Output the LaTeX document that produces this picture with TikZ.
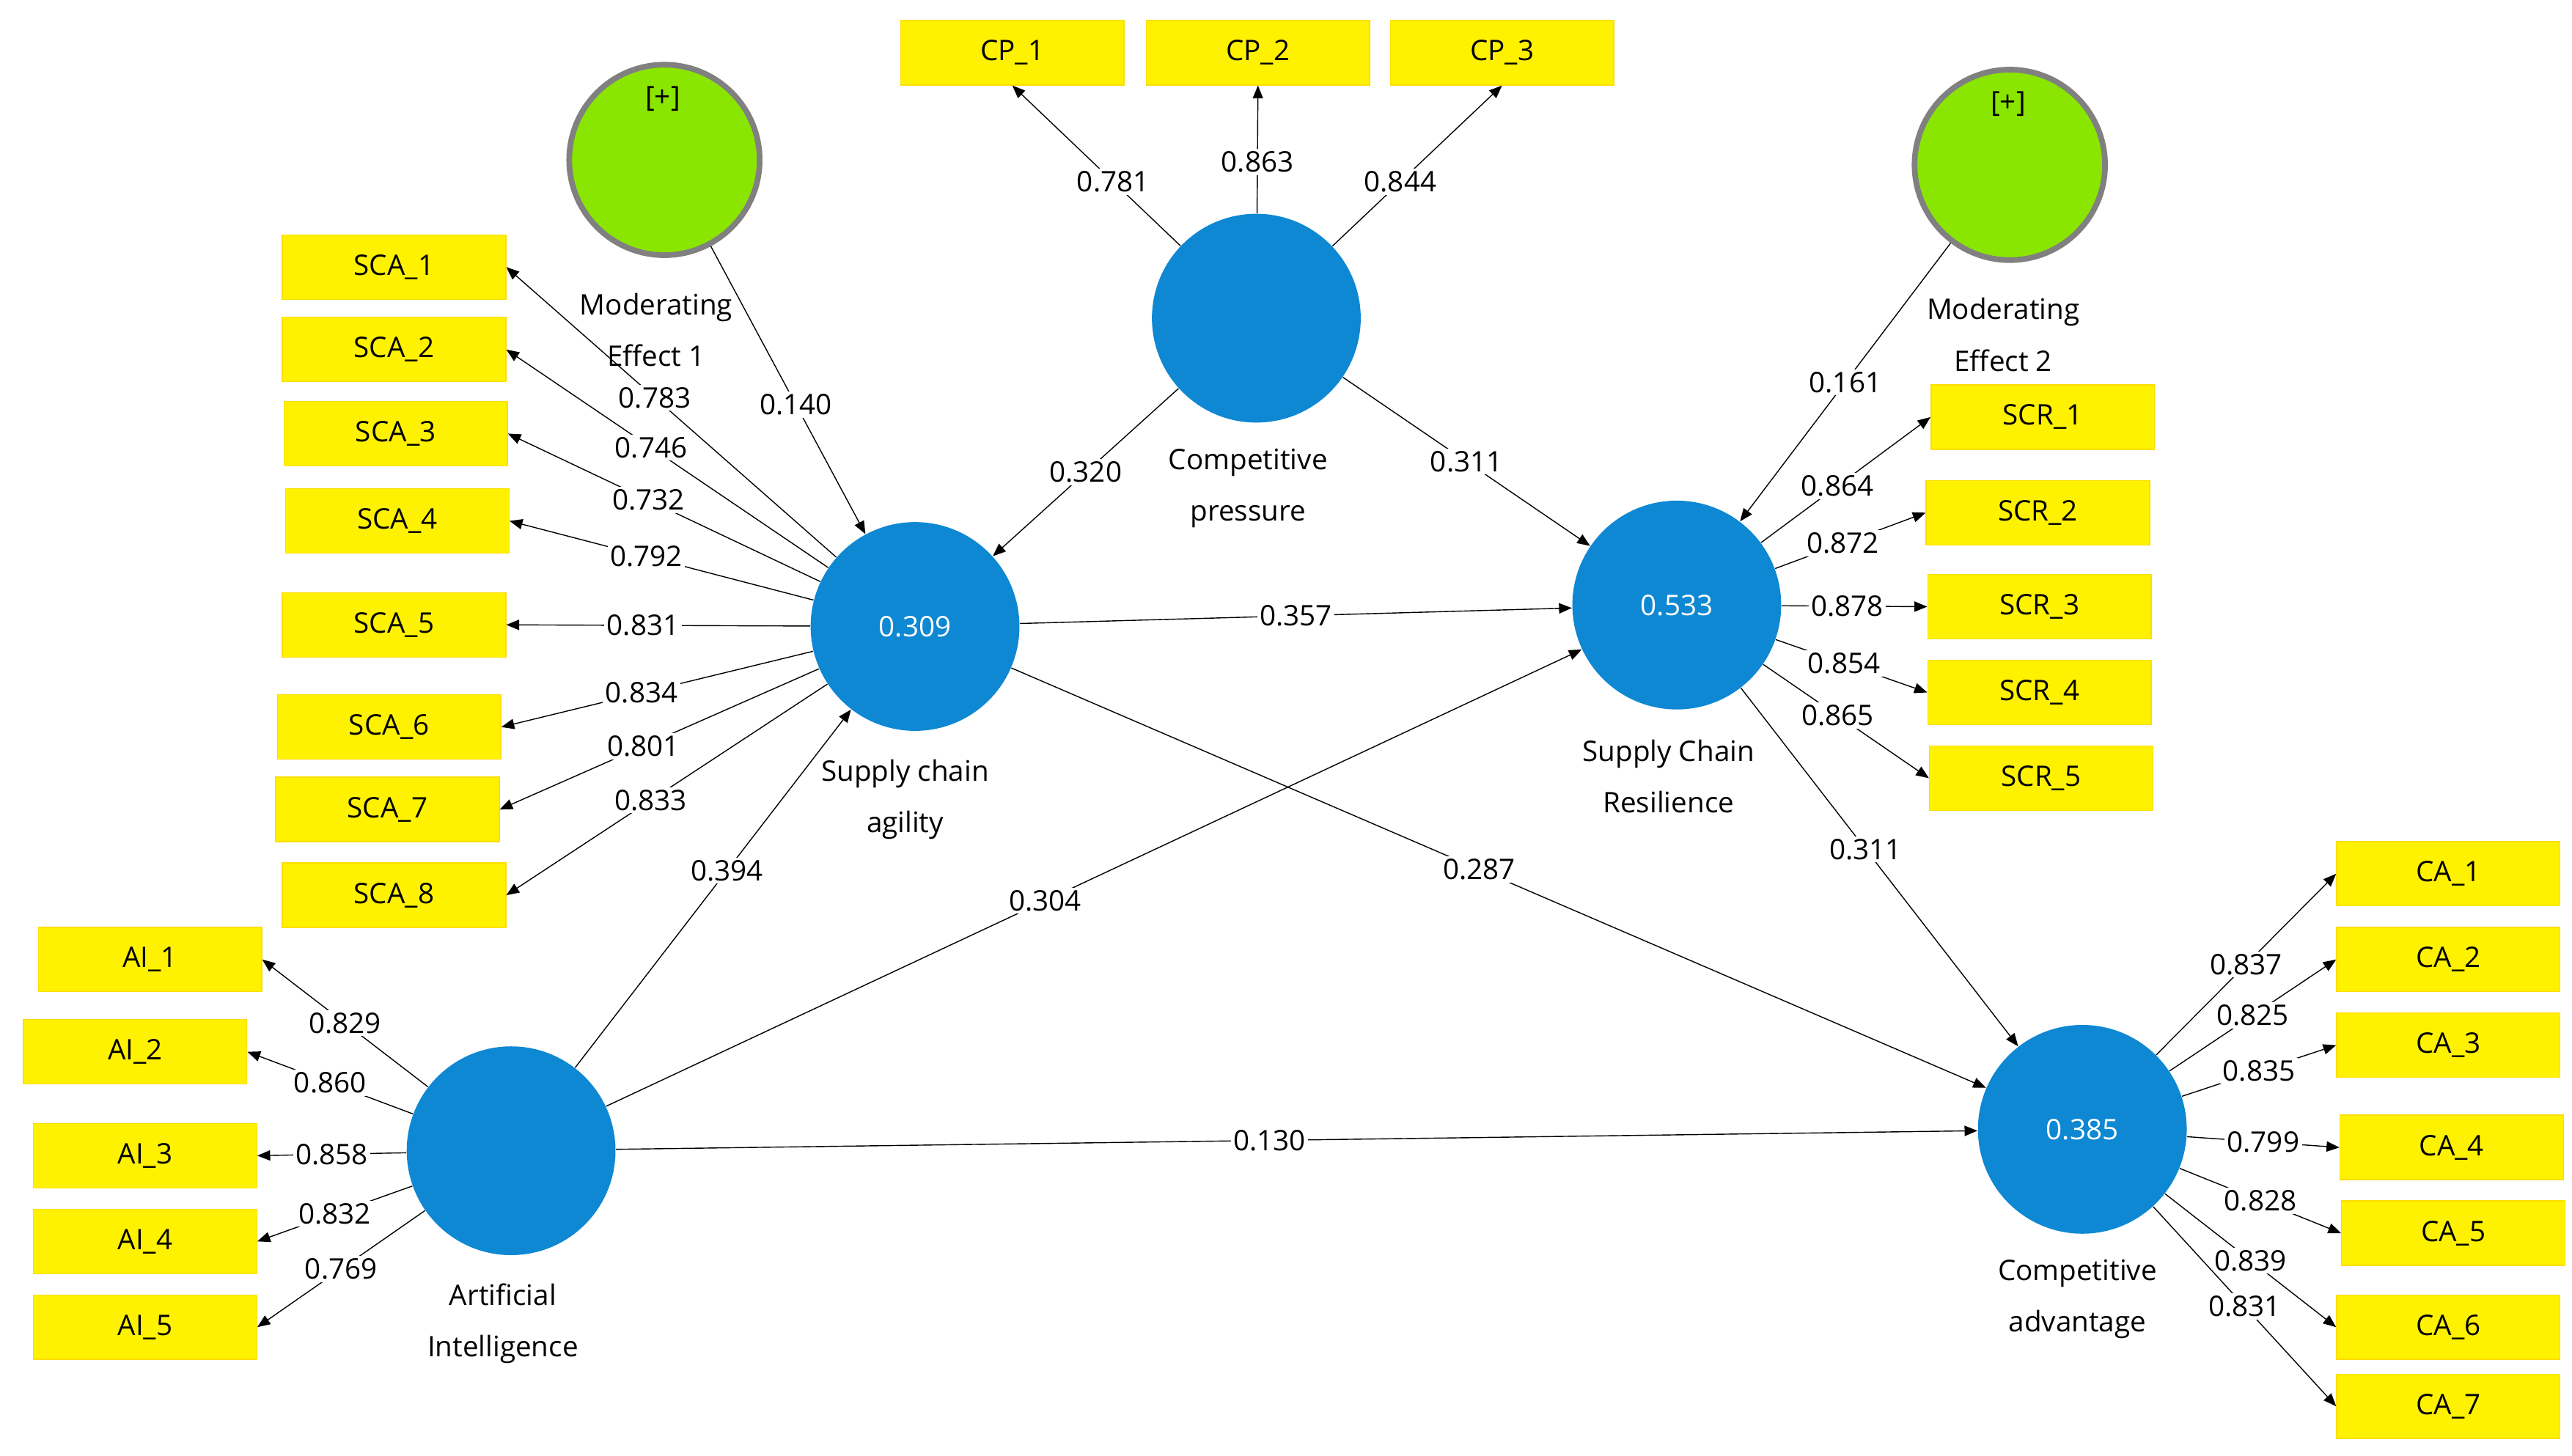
\documentclass[tikz,border=0pt]{standalone}
\usepackage{fontspec}
\setmainfont{Open Sans}
\usetikzlibrary{arrows.meta}
\tikzset{
    latent/.style={circle, fill=cyan!70!blue, draw=none, minimum size=2.85cm,
        text=white, font=\fontsize{11}{13}\selectfont},
    moder/.style={circle, fill=lime!80!green!90!black, draw=gray, line width=2.2pt,
        minimum size=2.6cm},
    indic/.style={rectangle, fill=yellow, draw=yellow!80!orange, minimum width=3.05cm,
        minimum height=0.88cm, font=\fontsize{11}{13}\selectfont},
    lab/.style={align=center, font=\fontsize{11}{20}\selectfont},
    path/.style={-{Triangle[length=5pt,width=4pt]}, thin},
    coef/.style={fill=white, inner sep=1pt, font=\fontsize{11}{13}\selectfont}
}
\begin{document}
\begin{tikzpicture}[x=0.0225cm, y=-0.0225cm]
    \useasboundingbox (0,0) rectangle (1560,883);

    % latent variables
    \node[latent] (SCA) at (555,380) {0.309};
    \node[latent] (CP) at (762,193) {};
    \node[latent] (SCR) at (1017,367) {0.533};
    \node[latent] (AI) at (310,698) {};
    \node[latent] (CA) at (1263,685) {0.385};
    \node[moder] (ME1) at (403,97) {};
    \node[font=\fontsize{11}{13}\selectfont] at (402,60) {[+]};
    \node[moder] (ME2) at (1219,100) {};
    \node[font=\fontsize{11}{13}\selectfont] at (1218,63) {[+]};

    \node[lab] at (398,200) {Moderating\\Effect 1};
    \node[lab] at (1215,203) {Moderating\\Effect 2};
    \node[lab] at (757,296) {Competitive\\pressure};
    \node[lab] at (549,485) {Supply chain\\agility};
    \node[lab] at (1012,471) {Supply Chain\\Resilience};
    \node[lab] at (305,803) {Artificial\\Intelligence};
    \node[lab] at (1260,788) {Competitive\\advantage};

    % indicators
    \foreach \n/\x/\y/\v in {1/239/162/0.783, 2/239/212/0.746, 3/240/263/0.732,
        4/241/316/0.792, 5/239/379/0.831, 6/236/441/0.834, 7/235/491/0.801, 8/239/543/0.833}{
        \node[indic] (SCA_\n) at (\x,\y) {SCA\_\n};
        \draw[path] (SCA) -- (SCA_\n.east) node[coef, pos=0.55] {\v};
    }
    \foreach \n/\x/\y/\v in {1/614/32/0.781, 2/763/32/0.863, 3/911/32/0.844}{
        \node[indic] (CP_\n) at (\x,\y) {CP\_\n};
        \draw[path] (CP) -- (CP_\n.south) node[coef, pos=0.4] {\v};
    }
    \foreach \n/\x/\y/\v in {1/1239/253/0.864, 2/1236/311/0.872, 3/1237/368/0.878,
        4/1237/420/0.854, 5/1238/472/0.865}{
        \node[indic] (SCR_\n) at (\x,\y) {SCR\_\n};
        \draw[path] (SCR) -- (SCR_\n.west) node[coef, pos=0.45] {\v};
    }
    \foreach \n/\x/\y/\v in {1/91/582/0.829, 2/82/638/0.860, 3/88/701/0.858,
        4/88/753/0.832, 5/88/805/0.769}{
        \node[indic] (AI_\n) at (\x,\y) {AI\_\n};
        \draw[path] (AI) -- (AI_\n.east) node[coef, pos=0.5] {\v};
    }
    \foreach \n/\x/\y/\v in {1/1485/530/0.837, 2/1485/582/0.825, 3/1485/634/0.835,
        4/1487/696/0.799, 5/1488/748/0.828, 6/1485/805/0.839, 7/1485/853/0.831}{
        \node[indic] (CA_\n) at (\x,\y) {CA\_\n};
        \draw[path] (CA) -- (CA_\n.west) node[coef, pos=0.5] {\v};
    }

    % structural paths
    \draw[path] (ME1) -- (SCA) node[coef, pos=0.55] {0.140};
    \draw[path] (CP) -- (SCA) node[coef, pos=0.5] {0.320};
    \draw[path] (CP) -- (SCR) node[coef, pos=0.5] {0.311};
    \draw[path] (ME2) -- (SCR) node[coef, pos=0.5] {0.161};
    \draw[path] (SCA) -- (SCR) node[coef, pos=0.5] {0.357};
    \draw[path] (SCA) -- (CA) node[coef, pos=0.48] {0.287};
    \draw[path] (SCR) -- (CA) node[coef, pos=0.45] {0.311};
    \draw[path] (AI) -- (SCA) node[coef, pos=0.55] {0.394};
    \draw[path] (AI) -- (SCR) node[coef, pos=0.45] {0.304};
    \draw[path] (AI) -- (CA) node[coef, pos=0.48] {0.130};
\end{tikzpicture}
\end{document}
